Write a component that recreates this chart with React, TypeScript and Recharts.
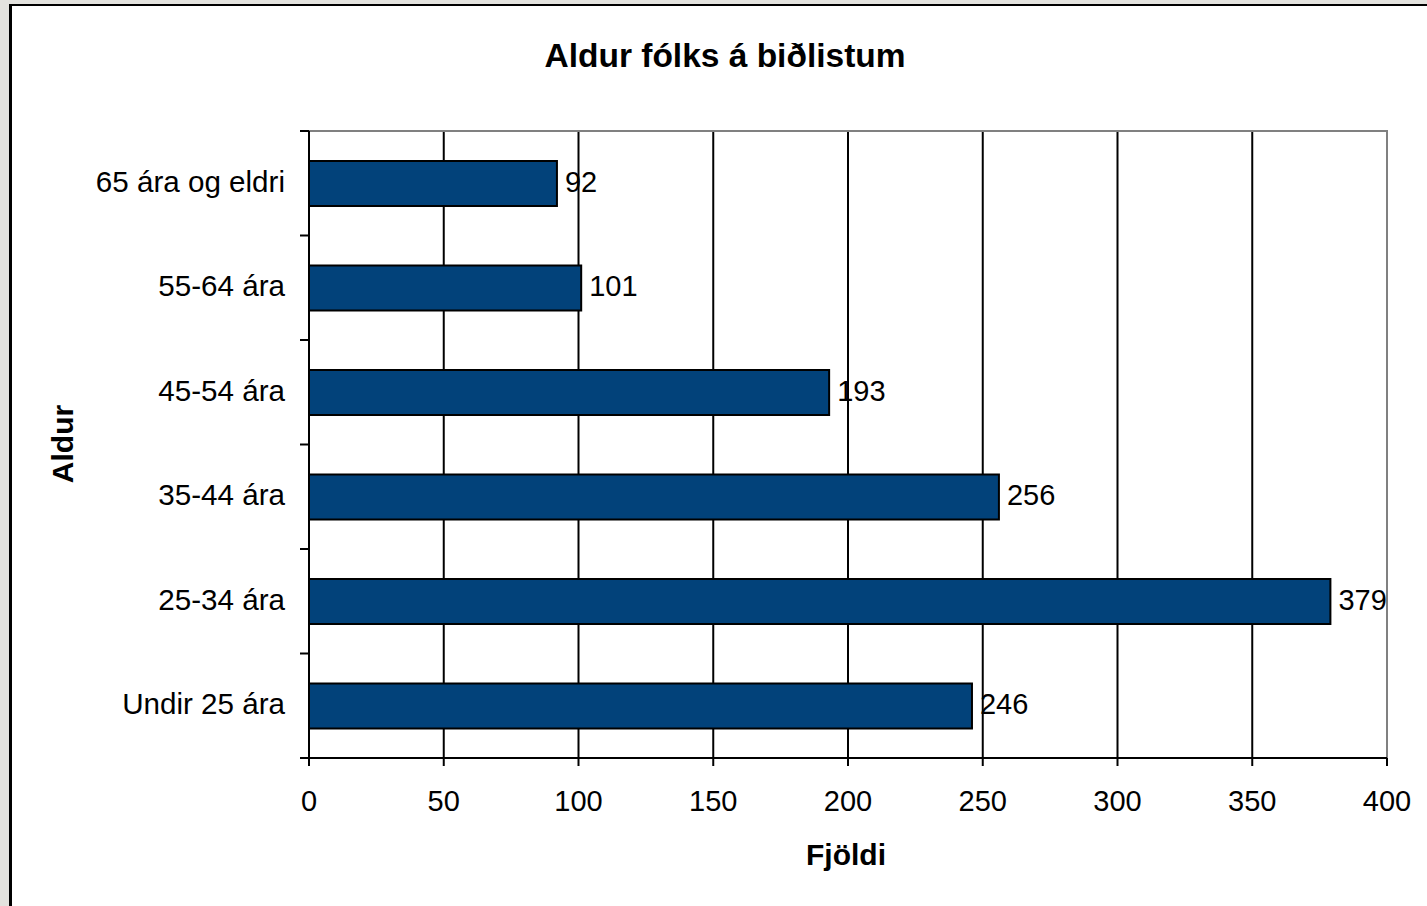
import React from "react";
import { BarChart, Bar, XAxis, YAxis, CartesianGrid, LabelList, ReferenceArea } from "recharts";

const categories = ["65 ára og eldri", "55-64 ára", "45-54 ára", "35-44 ára", "25-34 ára", "Undir 25 ára"];
const values = [92, 101, 193, 256, 379, 246];
const xTicks = [0, 50, 100, 150, 200, 250, 300, 350, 400];

const title = "Aldur fólks á biðlistum";
const xTitle = "Fjöldi";
const yTitle = "Aldur";

const data = categories.map((c, i) => ({ cat: c, value: values[i] }));

const FONT = '"Liberation Sans", Arial, sans-serif';
const W = 1427;
const H = 906;
const margin = { top: 131, right: 40, bottom: 88, left: 0 };
const Y_AXIS_W = 309;
const X_AXIS_H = 60;
const plotH = H - margin.top - margin.bottom - X_AXIS_H;
const band = plotH / categories.length;

const YTick = (props: any) => {
  const { x, y, payload, index } = props;
  const axisX = Y_AXIS_W;
  return (
    <g>
      <text x={x} y={y} dy="0.28em" textAnchor="end" fontSize={29.6} fill="#000" fontFamily={FONT}>
        {payload.value}
      </text>
      <line x1={axisX - 9} x2={axisX} y1={y + band / 2} y2={y + band / 2} stroke="#000" strokeWidth={2} />
      {index === 0 && (
        <line x1={axisX - 9} x2={axisX} y1={y - band / 2} y2={y - band / 2} stroke="#000" strokeWidth={2} />
      )}
    </g>
  );
};

export default function App() {
  return (
    <div
      style={{
        position: "fixed",
        left: 0,
        top: 0,
        width: W,
        height: H,
        background: "#e3e2de",
        overflow: "hidden",
        fontFamily: FONT,
      }}
    >
      <div
        style={{
          position: "absolute",
          left: 9,
          top: 4,
          right: 0,
          bottom: 0,
          background: "#fff",
          borderLeft: "3px solid #000",
          borderTop: "2px solid #000",
        }}
      />
      <div style={{ position: "absolute", left: 0, top: 0 }}>
        <BarChart width={W} height={H} data={data} layout="vertical" margin={margin} barSize={45}>
          <CartesianGrid horizontal={false} vertical={true} stroke="#000" strokeWidth={2} strokeOpacity={1} />
          <ReferenceArea x1={0} x2={400} fill="none" stroke="#808080" strokeWidth={2} fillOpacity={0} ifOverflow="visible" />
          <XAxis
            type="number"
            domain={[0, 400]}
            ticks={xTicks}
            height={X_AXIS_H}
            tickSize={8}
            tickMargin={24}
            axisLine={{ stroke: "#000", strokeWidth: 2 }}
            tickLine={{ stroke: "#000", strokeWidth: 2 }}
            tick={{ fill: "#000", fontSize: 29, fontFamily: FONT }}
            allowDataOverflow
          />
          <YAxis
            type="category"
            dataKey="cat"
            width={Y_AXIS_W}
            tickLine={false}
            tickSize={8}
            tickMargin={16}
            axisLine={{ stroke: "#000", strokeWidth: 2 }}
            tick={<YTick />}
            interval={0}
          />
          <Bar dataKey="value" fill="#02427a" stroke="#000" strokeWidth={2} isAnimationActive={false}>
            <LabelList
              dataKey="value"
              position="right"
              offset={8}
              fill="#000"
              fontSize={29}
              fontFamily={FONT}
              dy={-2}
            />
          </Bar>
        </BarChart>
      </div>
      <div
        style={{
          position: "absolute",
          left: 725,
          top: 56,
          transform: "translate(-50%, -50%)",
          fontWeight: "bold",
          fontSize: 33.5,
          lineHeight: 1,
          whiteSpace: "nowrap",
          color: "#000",
        }}
      >
        {title}
      </div>
      <div
        style={{
          position: "absolute",
          left: 846,
          top: 855,
          transform: "translate(-50%, -50%)",
          fontWeight: "bold",
          fontSize: 30,
          lineHeight: 1,
          whiteSpace: "nowrap",
          color: "#000",
        }}
      >
        {xTitle}
      </div>
      <div
        style={{
          position: "absolute",
          left: 63,
          top: 444,
          transform: "translate(-50%, -50%) rotate(-90deg)",
          fontWeight: "bold",
          fontSize: 30,
          lineHeight: 1,
          whiteSpace: "nowrap",
          color: "#000",
        }}
      >
        {yTitle}
      </div>
    </div>
  );
}
